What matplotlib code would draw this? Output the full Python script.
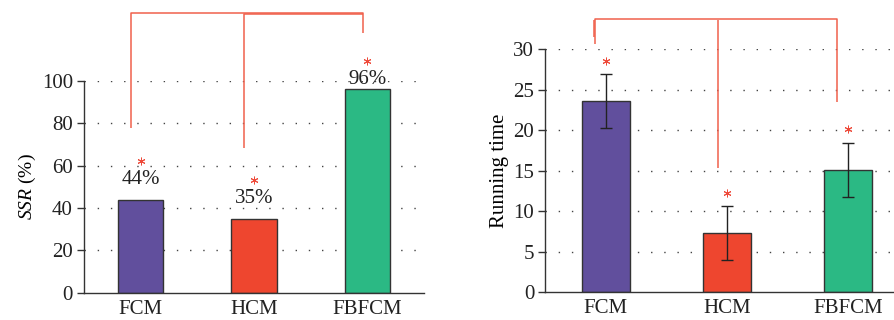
import matplotlib
matplotlib.use("Agg")
import matplotlib.pyplot as plt

categories = ["FCM", "HCM", "FBFCM"]
ssr_values = [44, 35, 96]
time_values = [23.6, 7.3, 15.1]
time_errors = [3.3, 3.3, 3.3]
ssr_ticks = [0, 20, 40, 60, 80, 100]
time_ticks = [0, 5, 10, 15, 20, 25, 30]

colors = ["#614f9d", "#ee462f", "#2bb984"]
edge = "#333333"
bracket_c = "#f0604c"
star_c = "#ee4a3a"

plt.rcParams['font.family'] = ['Liberation Serif', 'DejaVu Serif']
plt.rcParams['mathtext.fontset'] = 'custom'
plt.rcParams['mathtext.it'] = 'Liberation Serif:italic'
plt.rcParams['mathtext.rm'] = 'Liberation Serif'

fig = plt.figure(figsize=(8.94, 3.2), dpi=100)
ax1 = fig.add_axes([0.094, 0.0853, 0.3803, 0.6616])
ax2 = fig.add_axes([0.610, 0.0866, 0.4059, 0.7594])

x = list(range(len(categories)))
dot = (0, (1, 8.5))


def style(ax, ticks, ymax):
    ax.set_xlim(-0.5, 2.5)
    ax.set_ylim(0, ymax)
    ax.set_yticks(ticks)
    ax.set_xticks(x)
    ax.set_xticklabels(categories)
    for s in ["top", "right"]:
        ax.spines[s].set_visible(False)
    for s in ["left", "bottom"]:
        ax.spines[s].set_color(edge)
        ax.spines[s].set_linewidth(1.0)
    ax.tick_params(axis="y", length=5, width=1, color=edge, labelsize=15, pad=3, labelcolor="#222222")
    ax.tick_params(axis="x", length=0, labelsize=15, pad=5, labelcolor="#222222")
    for t in ticks[1:]:
        ax.axhline(t, color="#444444", lw=1.0, ls=dot, zorder=0.5)


# Left panel: SSR
style(ax1, ssr_ticks, 100)
ax1.bar(x, ssr_values, width=0.4, color=colors, edgecolor=edge, linewidth=1.0, zorder=2)
ax1.set_ylabel("$\\mathit{SSR}$ (%)", fontsize=14, labelpad=3)
for xi, v in zip(x, ssr_values):
    off = 9.7 if v < 90 else 4.8
    ax1.text(xi, v + off, f"{v}%", ha="center", va="center", fontsize=15, color="#222222", clip_on=False)
    ax1.plot(xi, v + off + 8.6, marker=(6, 2, 0), ms=5.5, mew=0.7, color=star_c, clip_on=False)

kw = dict(color=bracket_c, lw=1.1, clip_on=False, solid_capstyle="butt")
ax1.plot([-0.09, -0.09, 1.96, 1.96], [78, 132.3, 132.3, 122.5], **kw)
ax1.plot([0.91, 0.91, 1.96], [68.5, 131.5, 131.5], **kw)

# Right panel: running time
style(ax2, time_ticks, 30)
ax2.bar(x, time_values, width=0.4, color=colors, edgecolor=edge, linewidth=1.0, zorder=2)
ax2.errorbar(x, time_values, yerr=time_errors, fmt="none", ecolor="#222222",
             elinewidth=1.0, capsize=4, capthick=1.0, zorder=3)
ax2.set_ylabel("Running time", fontsize=15, labelpad=3)
for xi, v, e in zip(x, time_values, time_errors):
    ax2.plot(xi, v + e + 1.7, marker=(6, 2, 0), ms=5.5, mew=0.7, color=star_c, clip_on=False)

ax2.plot([-0.1, -0.1], [31.5, 33.6], **kw)
ax2.plot([-0.086, -0.086, 1.91, 1.91], [30.6, 33.7, 33.7, 23.45], **kw)
ax2.plot([0.93, 0.93], [15.4, 33.6], **kw)

fig.savefig("out.png", dpi=100)
